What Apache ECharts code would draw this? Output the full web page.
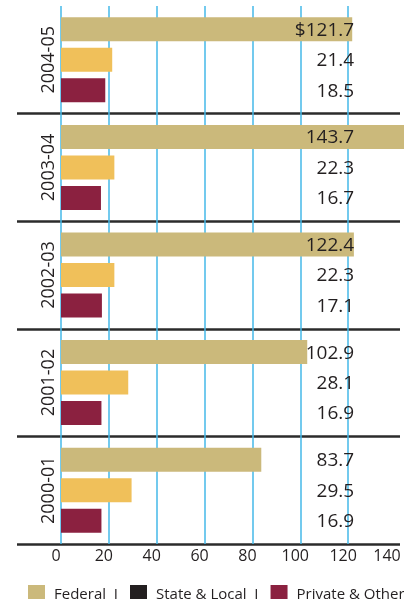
<!DOCTYPE html>
<html><head><meta charset="utf-8">
<script src="https://cdn.jsdelivr.net/npm/echarts@6/dist/echarts.min.js"></script>
<style>html,body{margin:0;padding:0;background:#fff}#c{width:404px;height:599px}</style>
</head><body><div id="c"></div>
<script>
const categories = ['2004-05', '2003-04', '2002-03', '2001-02', '2000-01'];
const federal = [121.7, 143.7, 122.4, 102.9, 83.7];
const stateLocal = [21.4, 22.3, 22.3, 28.1, 29.5];
const privateOther = [18.5, 16.7, 17.1, 16.9, 16.9];
const seriesNames = ['Federal', 'State & Local', 'Private & Other'];
const xMin = 0, xMax = 140, xStep = 20;
const labelAnchor = 122.5;

const FONT = 'Open Sans';
const TXT = '#231f20';
const colors = ['#cbb97b', '#f0c05a', '#8b2140'];
const legendColors = ['#cbb97b', '#231f20', '#8b2140'];

const chart = echarts.init(document.getElementById('c'), null, {renderer: 'canvas'});

function valueLabel(name) {
  return {
    show: true, position: 'right', color: TXT, fontFamily: FONT, fontSize: 19,
    formatter: p => (name === 'Federal' && p.dataIndex === 0 ? '$' : '') + p.value.toFixed(1)
  };
}
function layoutFn(params) {
  const x = chart.convertToPixel({xAxisIndex: 0}, labelAnchor);
  return {x: x, y: params.rect.y + params.rect.height / 2 + 1, align: 'right', verticalAlign: 'middle'};
}
const dataSets = [federal, stateLocal, privateOther];

chart.setOption({
  animation: false,
  grid: [
    {left: 61, right: 8, top: 6, height: 538},
    {left: 17, right: 4, top: 6, height: 538}
  ],
  xAxis: [
    {
      gridIndex: 0, type: 'value', min: xMin, max: xMax, interval: xStep,
      axisLine: {show: false}, axisTick: {show: false},
      splitLine: {show: true, showMaxLine: false, lineStyle: {color: '#45b8e9', width: 1.5}},
      axisLabel: {
        margin: 4, color: TXT, fontFamily: FONT, fontSize: 16,
        formatter: v => v === xMax ? '{e|' + v + '}' : '{n|' + v + '}',
        rich: {
          n: {padding: [0, 10, 0, 0], color: TXT, fontFamily: FONT, fontSize: 16},
          e: {padding: [0, 18, 0, 0], color: TXT, fontFamily: FONT, fontSize: 16}
        }
      }
    },
    {gridIndex: 1, type: 'value', show: false, min: 0, max: 1}
  ],
  yAxis: [
    {
      gridIndex: 0, type: 'category', data: categories, inverse: true,
      axisLine: {show: false}, axisTick: {show: false}, splitLine: {show: false},
      axisLabel: {rotate: 90, margin: 3, color: TXT, fontFamily: FONT, fontSize: 18}
    },
    {
      gridIndex: 1, type: 'category', data: categories, inverse: true,
      axisLine: {show: false}, axisTick: {show: false}, axisLabel: {show: false},
      splitLine: {show: true, showMinLine: false, showMaxLine: true, lineStyle: {color: '#2b2b2b', width: 2.5}}
    }
  ],
  legend: {
    left: 23, top: 580, width: 1000, itemWidth: 17, itemHeight: 20, itemGap: 12, icon: 'rect',
    selectedMode: false,
    data: seriesNames.map((n, i) => ({name: n, itemStyle: {color: legendColors[i]}})),
    formatter: n => n === 'Private & Other' ? n : n + '  I',
    textStyle: {color: TXT, fontFamily: FONT, fontSize: 15, padding: [0, 0, 0, 4]}
  },
  series: seriesNames.map((n, i) => ({
    name: n, type: 'bar', xAxisIndex: 0, yAxisIndex: 0,
    data: dataSets[i], barWidth: 24, barGap: '27%', clip: false,
    itemStyle: {color: colors[i]},
    label: valueLabel(n),
    labelLayout: layoutFn
  }))
});
</script>
</body></html>
